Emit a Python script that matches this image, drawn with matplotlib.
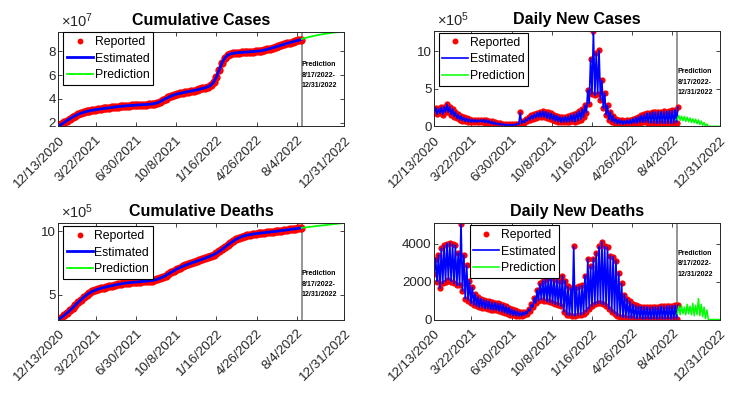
import numpy as np
import matplotlib
matplotlib.use("Agg")
import matplotlib.pyplot as plt
from matplotlib.ticker import FuncFormatter

plt.rcParams['font.family'] = ['Liberation Sans', 'DejaVu Sans']
plt.rcParams['mathtext.fontset'] = 'custom'
plt.rcParams['mathtext.rm'] = 'Liberation Sans'
plt.rcParams['mathtext.it'] = 'Liberation Sans:italic'

# x axis: day index counted from the left edge of each panel
tick_days = [0, 92, 192, 292, 392, 492, 592, 710]
tick_labels = ["12/13/2020", "3/22/2021", "6/30/2021", "10/8/2021",
               "1/16/2022", "4/26/2022", "8/4/2022", "12/31/2022"]
split_day = 604      # gray line, start of prediction
end_day = 710

# reported data, one value per week (day 0, 7, 14, ... 602)
week_days = list(range(0, 603, 7))

# cumulative cases, x 1e7
cum_cases = [1.70, 1.86, 2.02, 2.18, 2.33, 2.47, 2.60, 2.71, 2.80, 2.88,
             2.95, 3.00, 3.05, 3.09, 3.13, 3.16, 3.20, 3.23, 3.26, 3.29,
             3.32, 3.35, 3.37, 3.40, 3.42, 3.44, 3.46, 3.47, 3.49, 3.50,
             3.52, 3.53, 3.55, 3.57, 3.61, 3.67, 3.77, 3.90, 4.03, 4.14,
             4.25, 4.34, 4.41, 4.47, 4.52, 4.57, 4.62, 4.66, 4.71, 4.76,
             4.82, 4.88, 4.95, 5.03, 5.15, 5.40, 5.85, 6.45, 7.05, 7.45,
             7.68, 7.80, 7.85, 7.88, 7.90, 7.92, 7.94, 7.95, 7.97, 7.99,
             8.01, 8.04, 8.07, 8.11, 8.17, 8.24, 8.31, 8.38, 8.45, 8.53,
             8.60, 8.67, 8.74, 8.80, 8.87, 8.93, 9.00]
pred_cum_days = [604, 618, 632, 646, 660, 674, 688, 702, 710]
pred_cum_cases = [9.05, 9.18, 9.29, 9.39, 9.47, 9.54, 9.60, 9.64, 9.66]

# cumulative deaths, x 1e5
cum_deaths = [3.05, 3.22, 3.40, 3.58, 3.78, 3.98, 4.20, 4.42, 4.62, 4.82,
              5.00, 5.15, 5.27, 5.37, 5.45, 5.52, 5.58, 5.63, 5.68, 5.73,
              5.78, 5.82, 5.86, 5.90, 5.93, 5.96, 5.98, 6.00, 6.02, 6.04,
              6.06, 6.08, 6.10, 6.13, 6.17, 6.23, 6.31, 6.41, 6.52, 6.65,
              6.78, 6.91, 7.03, 7.14, 7.24, 7.33, 7.41, 7.49, 7.57, 7.65,
              7.73, 7.81, 7.89, 7.97, 8.06, 8.16, 8.28, 8.42, 8.58, 8.75,
              8.92, 9.08, 9.23, 9.37, 9.49, 9.58, 9.65, 9.70, 9.74, 9.78,
              9.81, 9.84, 9.87, 9.89, 9.92, 9.94, 9.97, 9.99, 10.02, 10.05,
              10.08, 10.11, 10.14, 10.17, 10.20, 10.23, 10.26]
pred_cum_deaths_days = [604, 625, 646, 667, 688, 710]
pred_cum_deaths = [10.27, 10.35, 10.43, 10.50, 10.58, 10.65]

# daily new cases, x 1e5: weekly high and low reports
cases_high = [2.45, 2.35, 2.50, 2.60, 2.95, 2.60, 2.30, 1.90, 1.60, 1.35,
              1.20, 1.05, 0.95, 0.90, 0.85, 0.85, 0.85, 0.90, 0.85, 0.75,
              0.65, 0.55, 0.45, 0.38, 0.32, 0.28, 0.25, 0.25, 0.28, 0.35,
              1.85, 0.70, 0.95, 1.20, 1.45, 1.65, 1.80, 1.95, 2.00, 1.95,
              1.85, 1.70, 1.55, 1.40, 1.30, 1.20, 1.25, 1.35, 1.50, 1.65,
              1.80, 2.00, 2.30, 2.80, 4.80, 9.00, 12.65, 9.70, 10.10, 6.10,
              4.40, 2.80, 1.90, 1.40, 1.00, 0.90, 0.80, 0.75, 0.80, 0.90,
              1.00, 1.15, 1.30, 1.45, 1.60, 1.75, 1.80, 1.90, 1.85, 1.95,
              1.90, 2.00, 1.95, 2.05, 2.10, 2.20, 2.60]
cases_low = [1.85, 1.60, 1.75, 1.55, 1.90, 1.85, 1.55, 1.30, 1.05, 0.85,
             0.75, 0.65, 0.60, 0.55, 0.55, 0.55, 0.60, 0.55, 0.50, 0.45,
             0.35, 0.28, 0.22, 0.18, 0.15, 0.12, 0.10, 0.10, 0.12, 0.15,
             0.25, 0.35, 0.50, 0.70, 0.85, 1.00, 1.10, 1.20, 1.25, 1.20,
             1.10, 0.95, 0.85, 0.70, 0.60, 0.55, 0.55, 0.60, 0.60, 0.65,
             0.60, 0.75, 0.90, 1.20, 1.80, 3.00, 4.30, 4.10, 4.30, 3.50,
             2.40, 1.50, 0.90, 0.60, 0.45, 0.35, 0.30, 0.28, 0.30, 0.32,
             0.35, 0.40, 0.45, 0.50, 0.55, 0.55, 0.50, 0.45, 0.40, 0.40,
             0.40, 0.40, 0.40, 0.40, 0.40, 0.40, 0.50]
pred_week_days = [604, 611, 618, 625, 632, 639, 646, 653, 660, 667, 674,
                  681, 688, 695, 702, 709]
pred_cases_high = [1.45, 1.35, 1.30, 1.20, 1.10, 1.00, 0.95, 0.85, 0.70, 0.50,
                   0.30, 0, 0, 0, 0, 0]
pred_cases_low = [0.90, 0.80, 0.75, 0.65, 0.60, 0.50, 0.45, 0.35, 0.25, 0.15,
                  0.05, 0, 0, 0, 0, 0]

# daily new deaths: weekly high and low reports
deaths_high = [3200, 3400, 3750, 3900, 4000, 4050, 3950, 3900, 3500, 5050,
               3400, 2850, 2050, 1700, 1350, 1200, 1100, 1050, 1000, 950,
               900, 880, 850, 820, 780, 700, 620, 550, 480, 430,
               400, 380, 420, 550, 800, 1150, 1550, 1900, 2050, 2150,
               2200, 2250, 2150, 2100, 2050, 2300, 2050, 1750, 1650, 3850,
               1700, 1750, 1800, 2300, 3200, 2800, 3200, 3500, 3850, 4100,
               3850, 3800, 3350, 3300, 3100, 2450, 1900, 1300, 1100, 950,
               800, 740, 700, 680, 680, 650, 640, 660, 650, 680,
               700, 700, 710, 720, 730, 740, 750]
deaths_low = [2400, 2000, 1650, 1900, 2000, 2100, 2000, 1900, 1800, 1800,
              1500, 1100, 1000, 850, 750, 700, 650, 620, 580, 560,
              520, 500, 480, 450, 400, 350, 300, 250, 220, 200,
              190, 190, 230, 300, 450, 650, 850, 1000, 1050, 1000,
              950, 900, 850, 800, 750, 700, 400, 250, 220, 200,
              200, 220, 250, 300, 400, 550, 700, 800, 850, 850,
              800, 700, 550, 400, 300, 200, 150, 120, 100, 80,
              60, 50, 40, 40, 30, 30, 30, 30, 30, 30,
              30, 30, 30, 30, 30, 30, 30]
pred_deaths_high = [700, 750, 650, 800, 700, 850, 750, 1100, 800, 650,
                    500, 0, 0, 0, 0, 0]
pred_deaths_low = [300, 250, 300, 250, 300, 250, 200, 250, 200, 150,
                   50, 0, 0, 0, 0, 0]

TXT = '#262626'


def zigzag(days, low, high, scale):
    # low report at the start of each week, high report mid-week
    d = np.asarray(days, dtype=float)
    x = np.column_stack([d, d + 3.5]).ravel()
    y = np.column_stack([np.asarray(low), np.asarray(high)]).ravel() * scale
    return x, y


def style_axes(ax, ylim, yticks, scale, expo, title, leg_anchor, mscale):
    ax.set_xlim(0, end_day)
    ax.set_ylim(*ylim)
    ax.set_yticks(yticks)
    ax.yaxis.set_major_formatter(FuncFormatter(lambda v, p: f'{v / scale:g}'))
    ax.set_xticks(tick_days)
    ax.set_xticklabels(tick_labels, rotation=45, ha='right', va='top',
                       rotation_mode='anchor')
    ax.tick_params(direction='in', top=True, right=True, length=3, width=0.6,
                   labelsize=9.6, colors=TXT)
    ax.tick_params(axis='x', pad=5.5)
    ax.tick_params(axis='y', pad=2)
    for s in ax.spines.values():
        s.set_color(TXT)
        s.set_linewidth(0.7)
    ax.set_title(title, fontsize=11.5, fontweight='bold', pad=5, color='black')
    if expo:
        ax.text(0.01, 1.02, expo, transform=ax.transAxes, ha='left',
                va='bottom', fontsize=10.5, color=TXT)
    ax.axvline(split_day, color='0.55', lw=1.3, zorder=1)
    leg = ax.legend(loc='upper left', bbox_to_anchor=leg_anchor, borderaxespad=0,
                    fontsize=8.8, frameon=True, fancybox=False, edgecolor='black',
                    framealpha=1, handlelength=2.1, handletextpad=0.15,
                    labelspacing=0.38, borderpad=0.3, markerscale=mscale)
    leg.get_frame().set_linewidth(0.8)


def pred_note(ax, ypos):
    ax.text(split_day + 0.5, ypos, "Prediction\n8/17/2022-\n12/31/2022",
            transform=ax.get_xaxis_transform(), ha='left', va='center',
            fontsize=5, fontweight='bold', linespacing=1.7, color='black')


fig = plt.figure(figsize=(7.44, 3.97), dpi=100)
ax1 = fig.add_axes([0.0786, 0.6819, 0.3844, 0.2383])
ax2 = fig.add_axes([0.5837, 0.6819, 0.3840, 0.2408])
ax3 = fig.add_axes([0.0786, 0.1947, 0.3844, 0.2436])
ax4 = fig.add_axes([0.5837, 0.1952, 0.3840, 0.2431])

# Cumulative Cases
cc = np.array(cum_cases) * 1e7
ax1.plot(week_days, cc, 'o', color='red', ms=6, mec='none', label='Reported')
ax1.plot(week_days, cc, '-', color='blue', lw=2, label='Estimated')
ax1.plot(pred_cum_days, np.array(pred_cum_cases) * 1e7, '-', color='#00ff00',
         lw=1.3, label='Prediction')
style_axes(ax1, (1.7e7, 9.66e7), [2e7, 4e7, 6e7, 8e7], 1e7, r'$\times10^{7}$',
           'Cumulative Cases', (0.017, 0.994), 0.7)
pred_note(ax1, 0.54)

# Daily New Cases
x, y = zigzag(week_days, cases_low, cases_high, 1e5)
ax2.plot(x, y, 'o', color='red', ms=4.5, mec='none', label='Reported')
ax2.plot(x, y, '-', color='blue', lw=1.2, label='Estimated')
xp, yp = zigzag(pred_week_days, pred_cases_low, pred_cases_high, 1e5)
ax2.plot(xp, yp, '-', color='#00ff00', lw=1.1, label='Prediction')
style_axes(ax2, (0, 12.7e5), [0, 5e5, 10e5], 1e5, r'$\times10^{5}$',
           'Daily New Cases', (0.0154, 0.976), 0.95)
pred_note(ax2, 0.46)

# Cumulative Deaths
cd = np.array(cum_deaths) * 1e5
ax3.plot(week_days, cd, 'o', color='red', ms=6, mec='none', label='Reported')
ax3.plot(week_days, cd, '-', color='blue', lw=2, label='Estimated')
ax3.plot(pred_cum_deaths_days, np.array(pred_cum_deaths) * 1e5, '-',
         color='#00ff00', lw=1.3, label='Prediction')
style_axes(ax3, (3.05e5, 10.65e5), [5e5, 10e5], 1e5, r'$\times10^{5}$',
           'Cumulative Deaths', (0.0168, 0.966), 0.7)
pred_note(ax3, 0.366)

# Daily New Deaths
x, y = zigzag(week_days, deaths_low, deaths_high, 1)
ax4.plot(x, y, 'o', color='red', ms=4.5, mec='none', label='Reported')
ax4.plot(x, y, '-', color='blue', lw=1.2, label='Estimated')
xp, yp = zigzag(pred_week_days, pred_deaths_low, pred_deaths_high, 1)
ax4.plot(xp, yp, '-', color='#00ff00', lw=1.1, label='Prediction')
style_axes(ax4, (0, 5080), [0, 2000, 4000], 1, None,
           'Daily New Deaths', (0.124, 0.976), 0.95)
pred_note(ax4, 0.58)

fig.savefig('out.png', dpi=100)
